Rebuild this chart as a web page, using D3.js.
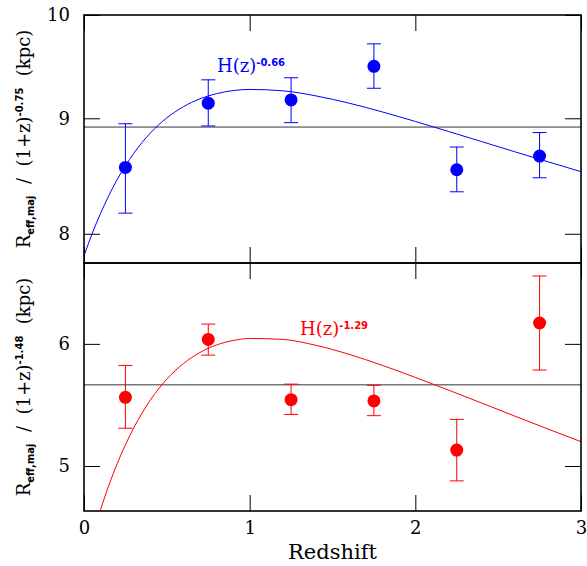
<!DOCTYPE html>
<html>
<head>
<meta charset="utf-8">
<script src="https://cdn.jsdelivr.net/npm/d3@7"></script>
<style>
  body { margin: 0; background: #fff; }
  svg { display: block; }
</style>
</head>
<body>
<svg id="chart"></svg>
<script>
var width = 587;
var height = 566;

// redshift bins
var zBins = [0.25, 0.75, 1.25, 1.75, 2.25, 2.75];

// top panel (blue)
var topVal = [8.56, 9.14, 9.17, 9.49, 8.54, 8.66];
var topHi  = [8.95, 9.36, 9.38, 9.71, 8.74, 8.87];
var topLo  = [8.17, 8.93, 8.96, 9.28, 8.35, 8.47];
var topMean = 8.92;

// bottom panel (red)
var botVal = [5.54, 6.04, 5.52, 5.51, 5.12, 6.19];
var botHi  = [5.81, 6.18, 5.65, 5.64, 5.36, 6.64];
var botLo  = [5.29, 5.90, 5.40, 5.39, 4.89, 5.77];
var botMean = 5.644;

// model curves
var curveZ   = [0, 0.05, 0.1, 0.15, 0.2, 0.3, 0.4, 0.5, 0.6, 0.7, 0.8, 0.9, 1.0, 1.2, 1.4, 1.6, 1.8, 2.0, 2.2, 2.4, 2.6, 2.8, 3.0];
var topCurve = [7.823, 8.004, 8.168, 8.318, 8.454, 8.683, 8.865, 9.004, 9.107, 9.181, 9.229, 9.258, 9.269, 9.256, 9.208, 9.140, 9.059, 8.971, 8.880, 8.789, 8.698, 8.610, 8.523];
var botCurve = [4.30, 4.50, 4.685, 4.858, 5.016, 5.292, 5.516, 5.692, 5.826, 5.923, 5.990, 6.030, 6.049, 6.040, 5.987, 5.907, 5.811, 5.707, 5.600, 5.493, 5.387, 5.284, 5.185];

var xTicks = [0, 1, 2, 3];
var topTicks = [8, 9, 10];
var botTicks = [5, 6];

var left = 84, right = 581;
var serif = "'DejaVu Serif', serif";
var sans = "'DejaVu Sans', sans-serif";

var svg = d3.select("#chart")
    .attr("width", width)
    .attr("height", height);

var x = d3.scaleLinear().domain([0, 3]).range([left, right]);

function drawPanel(cfg) {
    var y = d3.scaleLog().domain(cfg.domain).range([cfg.bottom, cfg.top]);
    var g = svg.append("g");

    g.append("clipPath").attr("id", cfg.id)
        .append("rect")
        .attr("x", left).attr("y", cfg.top)
        .attr("width", right - left).attr("height", cfg.bottom - cfg.top);

    // axes with inward ticks
    var axL = g.append("g").attr("transform", "translate(" + left + ",0)")
        .call(d3.axisLeft(y).tickValues(cfg.ticks).tickSize(-16).tickSizeOuter(0).tickPadding(14).tickFormat(d3.format("d")));
    var axR = g.append("g").attr("transform", "translate(" + right + ",0)")
        .call(d3.axisRight(y).tickValues(cfg.ticks).tickSize(-16).tickSizeOuter(0).tickFormat(""));
    var axT = g.append("g").attr("transform", "translate(0," + cfg.top + ")")
        .call(d3.axisTop(x).tickValues(xTicks).tickSize(-16).tickSizeOuter(0).tickFormat(""));
    var axB = g.append("g").attr("transform", "translate(0," + cfg.bottom + ")")
        .call(d3.axisBottom(x).tickValues(xTicks).tickSize(-16).tickSizeOuter(0).tickPadding(10)
            .tickFormat(cfg.xLabels ? d3.format("d") : ""));
    [axL, axR, axT, axB].forEach(function (a) {
        a.select(".domain").remove();
        a.selectAll("line").attr("stroke", "#000").attr("stroke-width", 1);
        a.selectAll("text").attr("fill", "#000").style("font-family", serif).style("font-size", "18px");
    });

    // mean line
    g.append("line")
        .attr("x1", left).attr("x2", right)
        .attr("y1", y(cfg.mean)).attr("y2", y(cfg.mean))
        .attr("stroke", "#333").attr("stroke-width", 1);

    // model curve
    var line = d3.line()
        .x(function (d, i) { return x(curveZ[i]); })
        .y(function (d) { return y(d); })
        .curve(d3.curveMonotoneX);
    g.append("path")
        .datum(cfg.curve)
        .attr("clip-path", "url(#" + cfg.id + ")")
        .attr("d", line)
        .attr("fill", "none")
        .attr("stroke", cfg.color)
        .attr("stroke-width", 1);

    // error bars
    var pts = zBins.map(function (z, i) {
        return { z: z, v: cfg.val[i], hi: cfg.hi[i], lo: cfg.lo[i] };
    });
    var eb = g.selectAll(".eb").data(pts).enter().append("g")
        .attr("stroke", cfg.color).attr("stroke-width", 1);
    eb.append("line")
        .attr("x1", function (d) { return x(d.z); }).attr("x2", function (d) { return x(d.z); })
        .attr("y1", function (d) { return y(d.hi); }).attr("y2", function (d) { return y(d.lo); });
    eb.append("line")
        .attr("x1", function (d) { return x(d.z) - 7; }).attr("x2", function (d) { return x(d.z) + 7; })
        .attr("y1", function (d) { return y(d.hi); }).attr("y2", function (d) { return y(d.hi); });
    eb.append("line")
        .attr("x1", function (d) { return x(d.z) - 7; }).attr("x2", function (d) { return x(d.z) + 7; })
        .attr("y1", function (d) { return y(d.lo); }).attr("y2", function (d) { return y(d.lo); });
    g.selectAll(".pt").data(pts).enter().append("circle")
        .attr("cx", function (d) { return x(d.z); })
        .attr("cy", function (d) { return y(d.v); })
        .attr("r", 6.5)
        .attr("fill", cfg.color);

    // curve label
    var lab = g.append("text")
        .attr("x", cfg.labX).attr("y", cfg.labY)
        .attr("fill", cfg.color)
        .style("font-family", serif).style("font-size", "18px");
    lab.append("tspan").text("H(z)");
    lab.append("tspan").attr("dy", -6)
        .style("font-family", sans).style("font-weight", "bold").style("font-size", "10px")
        .text(cfg.expo);

    // y axis title
    var yt = g.append("text")
        .attr("transform", "translate(30," + ((cfg.top + cfg.bottom) / 2) + ") rotate(-90)")
        .attr("text-anchor", "middle")
        .attr("fill", "#000")
        .style("font-family", serif).style("font-size", "18px");
    yt.append("tspan").text("R");
    yt.append("tspan").attr("dy", 4)
        .style("font-family", sans).style("font-weight", "bold").style("font-size", "10px")
        .text("eff,maj");
    yt.append("tspan").attr("dy", -4).text("\u00a0\u00a0/\u00a0\u00a0(1+z)");
    yt.append("tspan").attr("dy", -7)
        .style("font-family", sans).style("font-weight", "bold").style("font-size", "10px")
        .text(cfg.yExpo);
    yt.append("tspan").attr("dy", 7).text("\u00a0\u00a0(kpc)");

    // frame
    g.append("rect")
        .attr("x", left).attr("y", cfg.top)
        .attr("width", right - left).attr("height", cfg.bottom - cfg.top)
        .attr("fill", "none").attr("stroke", "#000").attr("stroke-width", 1.6);
}

drawPanel({
    id: "clipTop", top: 15, bottom: 263, domain: [7.765, 10], ticks: topTicks,
    val: topVal, hi: topHi, lo: topLo, mean: topMean, curve: topCurve,
    color: "#0000ff", labX: 217, labY: 72, expo: "-0.66", yExpo: "-0.75", xLabels: false
});
drawPanel({
    id: "clipBot", top: 263, bottom: 511, domain: [4.675, 6.77], ticks: botTicks,
    val: botVal, hi: botHi, lo: botLo, mean: botMean, curve: botCurve,
    color: "#ff0000", labX: 300, labY: 335, expo: "-1.29", yExpo: "-1.48", xLabels: true
});

svg.append("text")
    .attr("x", (left + right) / 2).attr("y", 559)
    .attr("text-anchor", "middle")
    .attr("fill", "#000")
    .style("font-family", serif).style("font-size", "21px")
    .text("Redshift");
</script>
</body>
</html>
